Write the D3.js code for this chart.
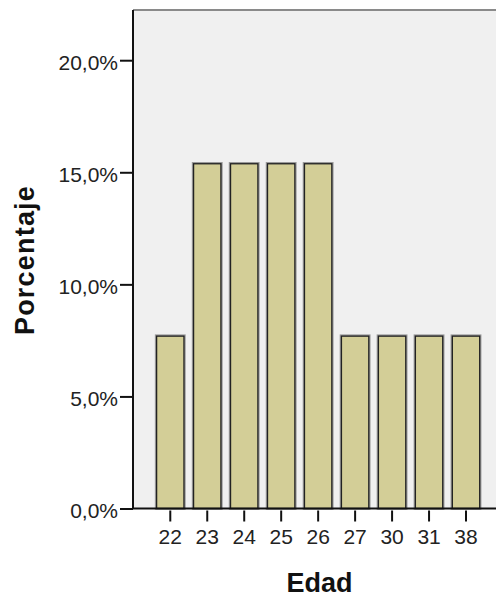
<!DOCTYPE html>
<html>
<head>
<meta charset="utf-8">
<script src="https://cdn.jsdelivr.net/npm/d3@7"></script>
<style>
html,body{margin:0;padding:0;background:#fff;}
svg{display:block;}
</style>
</head>
<body>
<svg id="chart" width="496" height="597"></svg>
<script>
const categories = ["22","23","24","25","26","27","30","31","38"];
const percentages = [7.69, 15.38, 15.38, 15.38, 15.38, 7.69, 7.69, 7.69, 7.69];
const yTicks = [0, 5, 10, 15, 20];
const yTickLabels = ["0,0%", "5,0%", "10,0%", "15,0%", "20,0%"];
const xTitle = "Edad";
const yTitle = "Porcentaje";

const svg = d3.select("#chart");
const plot = {left: 133, top: 10, right: 503, bottom: 508.5};
const tickFont = "Liberation Sans, Arial, sans-serif";

const y = d3.scaleLinear().domain([0, 22.24]).range([plot.bottom, plot.top]);
const x = d3.scaleBand().domain(categories).range([151.8, 484.5]).paddingInner(0.26).paddingOuter(0.13);

// plot background
svg.append("rect")
  .attr("x", plot.left).attr("y", plot.top)
  .attr("width", plot.right - plot.left).attr("height", plot.bottom - plot.top)
  .attr("fill", "#f0f0f0");

// top frame line
svg.append("line")
  .attr("x1", plot.left).attr("x2", 496)
  .attr("y1", plot.top).attr("y2", plot.top)
  .attr("stroke", "#8a8a8a").attr("stroke-width", 2);

// bars (shadow + bar)
const bars = svg.append("g");
bars.selectAll("rect.shadow").data(percentages).join("rect")
  .attr("class", "shadow")
  .attr("x", (d, i) => x(categories[i]) - 0.5)
  .attr("y", d => y(d) - 0.5)
  .attr("width", x.bandwidth() + 1)
  .attr("height", d => plot.bottom - y(d) + 0.5)
  .attr("fill", "none")
  .attr("stroke", "#9a9a9a")
  .attr("stroke-width", 2.5);
bars.selectAll("rect.bar").data(percentages).join("rect")
  .attr("class", "bar")
  .attr("x", (d, i) => x(categories[i]))
  .attr("y", d => y(d))
  .attr("width", x.bandwidth())
  .attr("height", d => plot.bottom - y(d))
  .attr("fill", "#d3ce97")
  .attr("stroke", "#222")
  .attr("stroke-width", 1.3);

// y axis
const yAxis = d3.axisLeft(y).tickValues(yTicks)
  .tickFormat((d, i) => yTickLabels[i]).tickSize(13).tickPadding(2);
const gy = svg.append("g").attr("transform", `translate(${plot.left},0)`).call(yAxis);
gy.select(".domain").attr("d", `M0,${plot.top}V${plot.bottom}`).attr("stroke", "#111").attr("stroke-width", 2);
gy.selectAll(".tick line").attr("stroke", "#111").attr("stroke-width", 2);
gy.selectAll(".tick text")
  .attr("font-family", tickFont).attr("font-size", 21)
  .attr("fill", "#222").attr("dy", "0.42em");

// x axis
const xAxis = d3.axisBottom(x).tickSize(13).tickPadding(4).tickSizeOuter(0);
const gx = svg.append("g").attr("transform", `translate(0,${plot.bottom})`).call(xAxis);
gx.select(".domain").attr("d", `M${plot.left},0H496`).attr("stroke", "#111").attr("stroke-width", 2);
gx.selectAll(".tick line").attr("stroke", "#111").attr("stroke-width", 2).attr("y1", 2);
gx.selectAll(".tick text")
  .attr("font-family", tickFont).attr("font-size", 21)
  .attr("fill", "#222").attr("dy", "0.9em");

// titles
svg.append("text")
  .attr("x", 319.5).attr("y", 591.5)
  .attr("text-anchor", "middle")
  .attr("font-family", tickFont).attr("font-weight", "bold")
  .attr("font-size", 27).attr("fill", "#111")
  .text(xTitle);
svg.append("text")
  .attr("transform", "translate(34,260) rotate(-90)")
  .attr("text-anchor", "middle")
  .attr("font-family", tickFont).attr("font-weight", "bold")
  .attr("font-size", 27).attr("letter-spacing", 1.2).attr("fill", "#111")
  .text(yTitle);
</script>
</body>
</html>
